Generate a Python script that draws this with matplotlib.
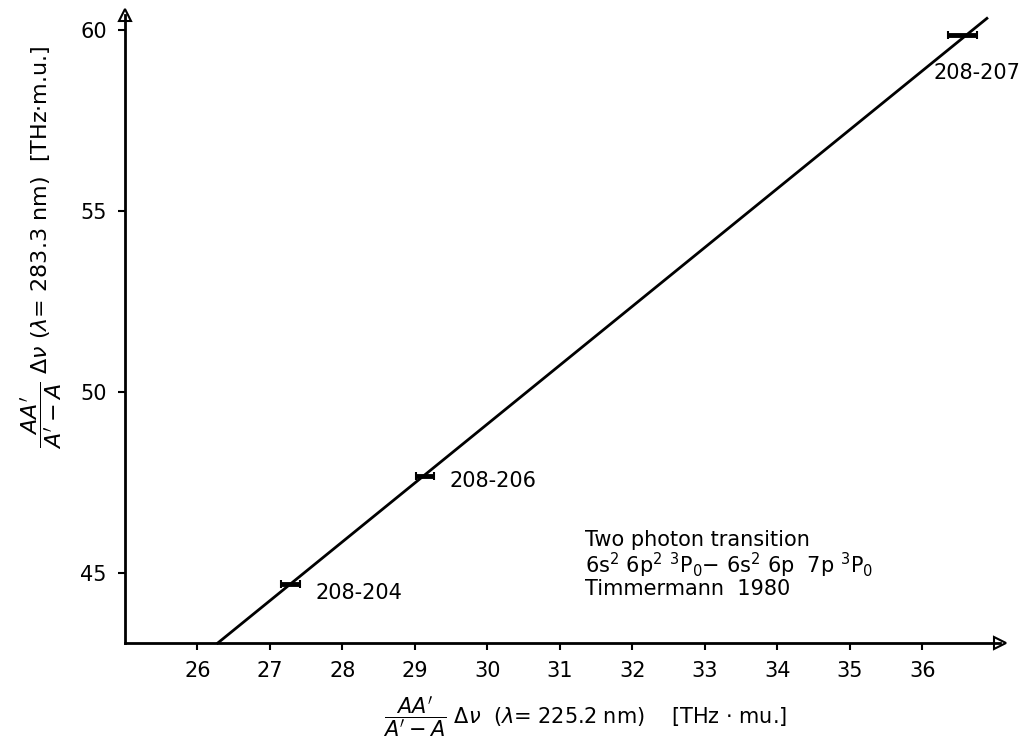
import matplotlib
matplotlib.use("Agg")
import matplotlib.pyplot as plt
import numpy as np

# King plot data: modified isotope shifts for the two transitions
pairs = ["208-204", "208-206", "208-207"]
x_vals = [27.28, 29.14, 36.55]
y_vals = [44.70, 47.68, 59.84]
x_err = [0.13, 0.12, 0.20]

# fitted straight line end points
line_x = [26.28, 36.89]
line_y = [43.07, 60.31]

x_ticks = [26, 27, 28, 29, 30, 31, 32, 33, 34, 35, 36]
y_ticks = [45, 50, 55, 60]

plt.rcParams['font.family'] = ['DejaVu Sans']
plt.rcParams['mathtext.fontset'] = 'dejavusans'

fig = plt.figure(figsize=(10.26, 7.52), dpi=100)
ax = fig.add_axes([0.1218, 0.1449, 0.8528, 0.835])

x0, x1 = 25.0, 37.07
y0, y1 = 43.07, 60.40
ax.set_xlim(x0, x1)
ax.set_ylim(y0, y1)

for side in ("top", "right"):
    ax.spines[side].set_visible(False)
for side in ("left", "bottom"):
    ax.spines[side].set_linewidth(2.0)
    ax.spines[side].set_color("black")

# arrow heads at the axis ends
ax.plot([x1], [y0], marker=">", color="black", markersize=8, clip_on=False,
        markerfacecolor="white", markeredgewidth=1.5)
ax.plot([x0], [y1], marker="^", color="black", markersize=8, clip_on=False,
        markerfacecolor="white", markeredgewidth=1.5)

ax.set_xticks(x_ticks)
ax.set_yticks(y_ticks)
ax.tick_params(axis="both", direction="out", length=5, width=1.5,
               labelsize=15, colors="black", pad=8)

# regression line
ax.plot(line_x, line_y, color="black", linewidth=2.0, clip_on=False)

# data points with horizontal error bars
ax.errorbar(x_vals, y_vals, xerr=x_err, fmt="none", ecolor="black",
            elinewidth=3.5, capsize=3, capthick=1.5)

label_offsets = [(0.35, -0.25), (0.33, -0.15), (-0.4, -1.05)]
for name, xv, yv, (dx, dy) in zip(pairs, x_vals, y_vals, label_offsets):
    ax.text(xv + dx, yv + dy, name, fontsize=15, ha="left", va="center")

ax.text(31.35, 45.92, "Two photon transition", fontsize=15, ha="left", va="center")
ax.text(31.35, 45.22, r"6s$^2$ 6p$^2$ $^3$P$_0$$-$ 6s$^2$ 6p  7p $^3$P$_0$",
        fontsize=15, ha="left", va="center")
ax.text(31.35, 44.56, "Timmermann  1980", fontsize=15, ha="left", va="center")

ax.set_xlabel(r"$\dfrac{AA'}{A'-A}\ \Delta\nu$  ($\lambda$= 225.2 nm)    [THz $\cdot$ mu.]",
              fontsize=15)
ax.set_ylabel(r"$\dfrac{AA'}{A'-A}\ \Delta\nu$ ($\lambda$= 283.3 nm)  [THz$\cdot$m.u.]",
              fontsize=16)
ax.xaxis.set_label_coords(0.526, -0.082)
ax.yaxis.set_label_coords(-0.07, 0.63)

fig.savefig("out.png", dpi=100)
